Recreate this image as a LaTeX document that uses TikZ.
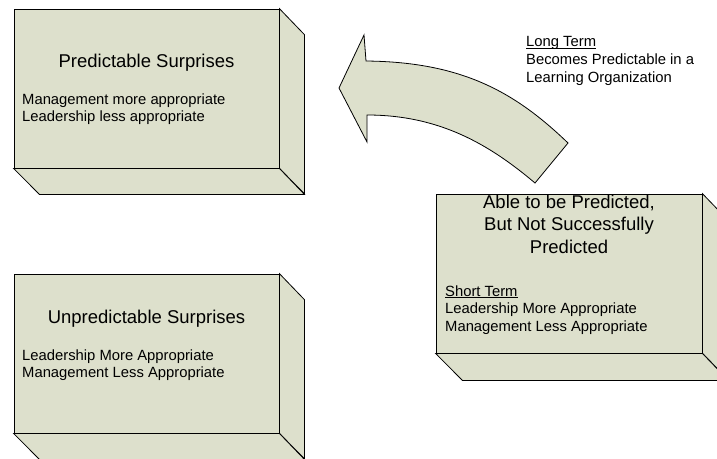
\documentclass[tikz,border=0pt]{standalone}
\usepackage{fontspec}
\setmainfont{Liberation Sans}
\usepackage{tikz}
\definecolor{verdegris}{RGB}{221,224,204}
\tikzstyle{cara}=[draw=black, fill=verdegris, line width=0.8pt, line join=miter]
\tikzstyle{frente}=[cara, rectangle, inner sep=0pt, minimum height=159pt]
\tikzstyle{titulo}=[font=\fontsize{18.5}{22.5}\selectfont, align=center, inner sep=0pt]
\tikzstyle{texto}=[font=\fontsize{14.8}{17.7}\selectfont, align=left, inner sep=0pt]
\newcommand{\subr}[1]{\leavevmode\setbox0\hbox{#1}\rlap{\rule[-1.7pt]{\wd0}{0.7pt}}\box0}

\begin{document}
\begin{tikzpicture}[x=1pt,y=-1pt]
            \useasboundingbox (0,0) rectangle (717,458);
            % Cajas
            \node[frente, minimum width=265pt] (pred) at (146.5,88.5) {};
            \draw[cara] (pred.north east) -- ++(25,26) -- ++(0,159) -- (pred.south east) -- cycle;
            \draw[cara] (pred.south west) -- (pred.south east) -- ++(25,26) -- ++(-265,0) -- cycle;
            \node[frente, minimum width=265pt] (nopred) at (146.5,353.5) {};
            \draw[cara] (nopred.north east) -- ++(25,26) -- ++(0,159) -- (nopred.south east) -- cycle;
            \draw[cara] (nopred.south west) -- (nopred.south east) -- ++(25,26) -- ++(-265,0) -- cycle;
            \node[frente, minimum width=266pt] (corto) at (569,273.5) {};
            \draw[cara] (corto.north east) -- ++(26,27) -- ++(0,159) -- (corto.south east) -- cycle;
            \draw[cara] (corto.south west) -- (corto.south east) -- ++(26,27) -- ++(-266,0) -- cycle;
            % Flecha
            \draw[cara] (568,143) .. controls (515,92) and (462,62) .. (366,61) -- (364,35) -- (339,88)
                -- (367,142) -- (367,115) .. controls (440,115) and (490,145) .. (535,183) -- cycle;
            % Textos (base = ultima linea)
            \node[titulo, anchor=base] (tpred) at (146.5,67) {Predictable Surprises};
            \node[texto, anchor=base west] (cpred) at (22,121.7) {Management more appropriate\\Leadership less appropriate};
            \node[titulo, anchor=base] (tnopred) at (146.5,323) {Unpredictable Surprises};
            \node[texto, anchor=base west] (cnopred) at (22,377.7) {Leadership More Appropriate\\Management Less Appropriate};
            \node[titulo, anchor=base] (tcorto) at (569,253) {Able to be Predicted,\\But Not Successfully\\Predicted};
            \node[texto, anchor=base west] (ccorto) at (445,331.4) {\subr{Short Term}\\Leadership More Appropriate\\Management Less Appropriate};
            \node[texto, anchor=base west] (clargo) at (526,82) {\subr{Long Term}\\Becomes Predictable in a\\Learning Organization};
        \end{tikzpicture}
\end{document}
